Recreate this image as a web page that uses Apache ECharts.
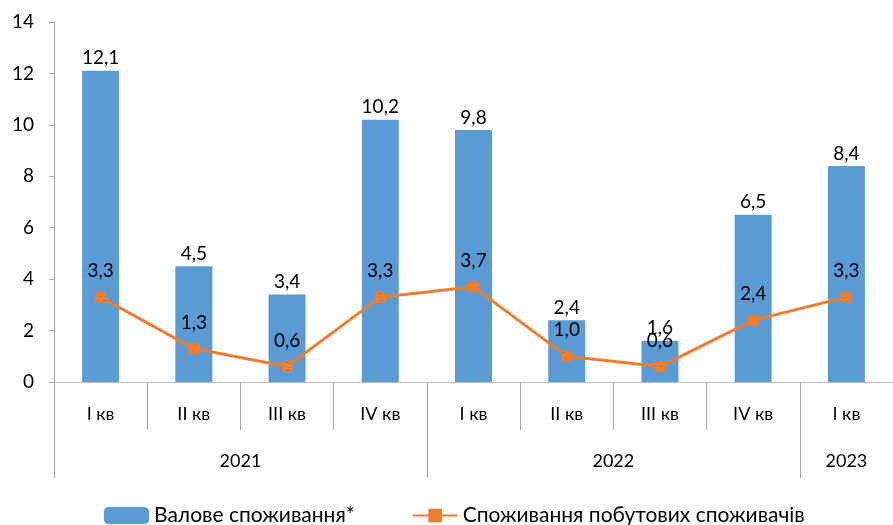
<!DOCTYPE html>
<html>
<head>
<meta charset="utf-8">
<script src="https://cdn.jsdelivr.net/npm/echarts@6/dist/echarts.min.js"></script>
<style>
  html, body { margin: 0; padding: 0; background: #fff; }
  #chart { width: 893px; height: 525px; }
</style>
</head>
<body>
<div id="chart"></div>
<script>
// chart data
const quarters = ['I кв', 'II кв', 'III кв', 'IV кв', 'I кв', 'II кв', 'III кв', 'IV кв', 'I кв'];
const years = ['2021', '2022', '2023'];
const yearSpans = [4, 4, 1];
const grossUse = [12.1, 4.5, 3.4, 10.2, 9.8, 2.4, 1.6, 6.5, 8.4];
const householdUse = [3.3, 1.3, 0.6, 3.3, 3.7, 1.0, 0.6, 2.4, 3.3];
const yTicks = [0, 2, 4, 6, 8, 10, 12, 14];

const FONT = 'Lato, "Open Sans", sans-serif';
const fmt = v => v.toFixed(1).replace('.', ',');

// year boundaries and centres on a 0..9 value scale
const yearBounds = [0];
const yearMids = [];
yearSpans.forEach(s => {
  const start = yearBounds[yearBounds.length - 1];
  yearMids.push(start + s / 2);
  yearBounds.push(start + s);
});

const chart = echarts.init(document.getElementById('chart'));

chart.setOption({
  animation: false,
  textStyle: { fontFamily: FONT },
  grid: { left: 54, right: -4, top: 22, bottom: 143, containLabel: false },
  legend: {
    left: 99,
    top: 500,
    itemWidth: 45,
    itemHeight: 17,
    itemGap: 57,
    textStyle: { fontSize: 21, color: '#000', fontFamily: FONT },
    data: ['Валове споживання*', 'Споживання побутових споживачів']
  },
  xAxis: [
    {
      type: 'category',
      data: quarters,
      axisLine: { lineStyle: { color: '#bfbfbf', width: 1 } },
      axisTick: { show: true, interval: 0, length: 48, lineStyle: { color: '#a6a6a6' } },
      axisLabel: { fontSize: 18, color: '#000', margin: 23, interval: 0, fontFamily: FONT }
    },
    {
      type: 'value',
      position: 'bottom',
      min: 0,
      max: 9,
      axisLine: { show: false },
      splitLine: { show: false },
      axisTick: {
        show: true,
        length: 96,
        customValues: yearBounds,
        lineStyle: { color: '#a6a6a6' }
      },
      axisLabel: {
        fontSize: 18,
        color: '#000',
        margin: 70,
        fontFamily: FONT,
        customValues: yearMids,
        formatter: v => {
          const i = yearMids.indexOf(v);
          return i >= 0 ? years[i] : '';
        }
      }
    }
  ],
  yAxis: {
    type: 'value',
    min: yTicks[0],
    max: yTicks[yTicks.length - 1],
    interval: 2,
    axisLine: { show: true, lineStyle: { color: '#a6a6a6' } },
    axisTick: { show: true, length: 5, lineStyle: { color: '#a6a6a6' } },
    splitLine: { show: false },
    axisLabel: { fontSize: 19, color: '#000', margin: 20, fontFamily: FONT }
  },
  series: [
    {
      name: 'Валове споживання*',
      type: 'bar',
      data: grossUse,
      barWidth: 37,
      itemStyle: { color: '#5b9bd5' },
      label: {
        show: true,
        position: 'top',
        distance: 3,
        fontSize: 19,
        color: '#000',
        fontFamily: FONT,
        formatter: p => fmt(p.value)
      }
    },
    {
      name: 'Споживання побутових споживачів',
      type: 'line',
      data: householdUse,
      symbol: 'rect',
      symbolSize: 11,
      lineStyle: { color: '#ed7d31', width: 3 },
      itemStyle: { color: '#ed7d31' },
      label: {
        show: true,
        position: 'top',
        distance: 11,
        fontSize: 19,
        color: '#000',
        fontFamily: FONT,
        formatter: p => fmt(p.value)
      }
    }
  ]
});
</script>
</body>
</html>
